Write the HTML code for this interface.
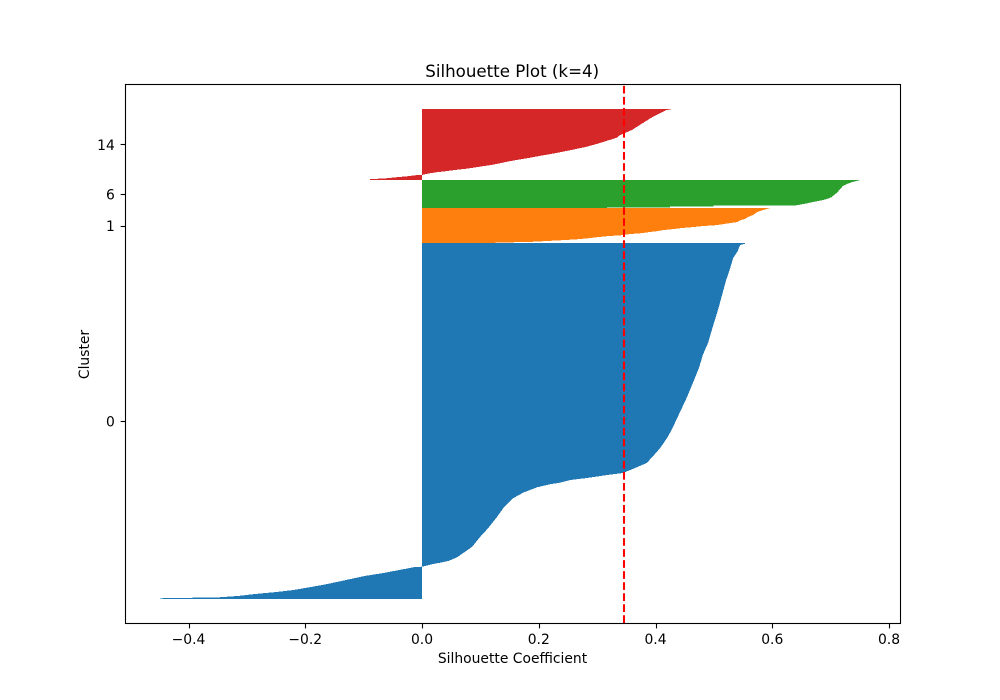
<!DOCTYPE html>
<html>
<head>
<meta charset="utf-8">
<title>Silhouette Plot (k=4)</title>
<style>
html,body{margin:0;padding:0;background:#fff;}
svg{display:block;}
text{font-family:"DejaVu Sans","Liberation Sans",sans-serif;fill:#000;}
</style>
</head>
<body>
<svg id="chart" width="1000" height="700" viewBox="0 0 1000 700" xmlns="http://www.w3.org/2000/svg">
  <rect x="0" y="0" width="1000" height="700" fill="#ffffff"/>
  <g id="bars"></g>
  <g id="mean"></g>
  <rect x="125.5" y="84.5" width="775" height="539" fill="none" stroke="#000" stroke-width="1.1"/>
  <g id="xticks"></g>
  <g id="yticks"></g>
  <text x="512.2" y="76.8" text-anchor="middle" font-size="16.67">Silhouette Plot (k=4)</text>
  <text x="512.5" y="663" text-anchor="middle" font-size="13.89">Silhouette Coefficient</text>
  <text x="0" y="0" text-anchor="middle" font-size="13.89" transform="translate(89,354.5) rotate(-90)">Cluster</text>
</svg>
<script>
const clusterLabels = ["0", "1", "6", "14"];
const clusterSizes = [507, 50, 40, 101];
const clusterColors = ["#1f77b4", "#ff7f0e", "#2ca02c", "#d62728"];
const xTickValues = [-0.4, -0.2, 0, 0.2, 0.4, 0.6, 0.8];
const meanScore = 0.346;

const cluster0Ranks = [0,1,2.4,4.3,7.1,10,12.8,15.7,19.9,24.2,28.5,32.8,37,41.3,45.6,46,49.9,51.7,54.1,59.4,67.4,74.5,87.9,100.7,116.4,129.2,143.4,151.4,159.1,163.4,165.7,169.5,172.4,176.6,179.5,185.2,193.7,203.7,215.1,230.8,245,266.4,287.7,307.7,330.5,347.6,364.7,387.5,411.7,433,454.4,471.5,485.8,494.3,504.3,506,507];
const cluster0Values = [-0.449,-0.449,-0.348,-0.315,-0.286,-0.249,-0.220,-0.200,-0.171,-0.146,-0.122,-0.098,-0.066,-0.039,-0.012,0,0.019,0.031,0.045,0.060,0.074,0.086,0.099,0.113,0.128,0.139,0.156,0.173,0.197,0.219,0.236,0.254,0.283,0.317,0.344,0.361,0.385,0.396,0.408,0.421,0.430,0.442,0.454,0.464,0.475,0.481,0.490,0.498,0.507,0.514,0.521,0.528,0.533,0.540,0.545,0.553,0.553];

const cluster1Ranks = [0,0.4,1.9,3.8,5.3,6.7,8.5,10,11,12.8,14.2,15.7,17.1,18.5,19.9,21.4,22.8,24.2,25.6,27,28.5,29.9,32.8,34.2,37,39.9,44.2,47,49.4,50];
const cluster1Values = [0.100,0.123,0.190,0.233,0.264,0.283,0.301,0.319,0.339,0.356,0.377,0.389,0.404,0.413,0.430,0.445,0.464,0.481,0.505,0.516,0.528,0.540,0.546,0.553,0.558,0.567,0.574,0.584,0.594,0.597];

const cluster6Ranks = [0,1,1,2.4,2.4,3.8,3.8,5.7,9,11,12.8,15.2,18.5,21.8,26.6,31.3,34.2,37,38.5,40];
const cluster6Values = [0.317,0.317,0.425,0.425,0.499,0.499,0.641,0.654,0.673,0.685,0.694,0.701,0.706,0.711,0.716,0.721,0.728,0.737,0.745,0.752];

const cluster14Ranks = [0,1,2.4,3.8,5.3,6.7,7.1,9.5,11,12.4,14.2,15.7,17.1,19.5,21.4,23.8,26.1,28.5,31.3,34.2,36.6,40.3,43.7,46.6,50.9,54.6,60.3,63.7,71.2,78.3,84.5,90.2,96.4,99.3,100.7,101];
const cluster14Values = [-0.089,-0.089,-0.060,-0.043,-0.024,-0.010,0,0.014,0.026,0.041,0.057,0.074,0.086,0.104,0.120,0.134,0.147,0.163,0.183,0.202,0.219,0.242,0.262,0.279,0.298,0.313,0.334,0.339,0.360,0.373,0.385,0.396,0.411,0.418,0.427,0.427];

const clusterRanks = [cluster0Ranks, cluster1Ranks, cluster6Ranks, cluster14Ranks];
const clusterValues = [cluster0Values, cluster1Values, cluster6Values, cluster14Values];

const NS = "http://www.w3.org/2000/svg";
const plotLeft = 125, plotRight = 900, plotTop = 84, plotBottom = 623;
const xMin = -0.5088, xMax = 0.8188;
const totalSamples = clusterSizes.reduce(function (a, b) { return a + b; }, 0);
const yMin = -totalSamples * 0.05, yMax = totalSamples * 1.05;

function xScale(v) { return plotLeft + (v - xMin) / (xMax - xMin) * (plotRight - plotLeft); }
function yScale(n) { return 0.5 + plotBottom - (n - yMin) / (yMax - yMin) * (plotBottom - plotTop); }

const barsGroup = document.getElementById("bars");
let offset = 0;
const yTicksGroup = document.getElementById("yticks");
clusterSizes.forEach(function (size, i) {
  const ranks = clusterRanks[i];
  const values = clusterValues[i];
  const pts = [];
  pts.push(xScale(0).toFixed(2) + "," + yScale(offset).toFixed(2));
  ranks.forEach(function (r, j) {
    pts.push(xScale(values[j]).toFixed(2) + "," + yScale(offset + r * size / ranks[ranks.length - 1]).toFixed(2));
  });
  pts.push(xScale(0).toFixed(2) + "," + yScale(offset + size).toFixed(2));
  const poly = document.createElementNS(NS, "polygon");
  poly.setAttribute("points", pts.join(" "));
  poly.setAttribute("fill", clusterColors[i]);
  poly.setAttribute("shape-rendering", "crispEdges");
  
  
  barsGroup.appendChild(poly);

  const yExact = yScale(offset + size / 2);
  const yMid = Math.round(yExact);
  const tick = document.createElementNS(NS, "line");
  tick.setAttribute("x1", plotLeft + 0.5);
  tick.setAttribute("x2", plotLeft - 4.4);
  tick.setAttribute("y1", yMid + 0.5);
  tick.setAttribute("y2", yMid + 0.5);
  tick.setAttribute("stroke", "#000");
  tick.setAttribute("stroke-width", "1.1");
  
  
  yTicksGroup.appendChild(tick);

  const label = document.createElementNS(NS, "text");
  label.setAttribute("x", plotLeft - 10.2);
  label.setAttribute("y", yExact + 5.45);
  label.setAttribute("text-anchor", "end");
  label.setAttribute("font-size", "13.89");
  label.textContent = clusterLabels[i];
  
  
  yTicksGroup.appendChild(label);

  offset += size;
});

const xTicksGroup = document.getElementById("xticks");
xTickValues.forEach(function (v) {
  const x = xScale(v);
  const tick = document.createElementNS(NS, "line");
  tick.setAttribute("x1", Math.round(x) + 0.5);
  tick.setAttribute("x2", Math.round(x) + 0.5);
  tick.setAttribute("y1", plotBottom + 0.5);
  tick.setAttribute("y2", plotBottom + 5.4);
  tick.setAttribute("stroke", "#000");
  tick.setAttribute("stroke-width", "1.1");
  
  
  xTicksGroup.appendChild(tick);

  const label = document.createElementNS(NS, "text");
  label.setAttribute("x", x);
  label.setAttribute("y", 644);
  label.setAttribute("text-anchor", "middle");
  label.setAttribute("font-size", "13.89");
  label.textContent = (v < 0 ? "\u2212" : "") + Math.abs(v).toFixed(1);
  
  
  xTicksGroup.appendChild(label);
});

const meanLine = document.createElementNS(NS, "line");
meanLine.setAttribute("x1", xScale(meanScore));
meanLine.setAttribute("x2", xScale(meanScore));
meanLine.setAttribute("y1", plotBottom);
meanLine.setAttribute("y2", plotTop);
meanLine.setAttribute("stroke", "#ff0000");
meanLine.setAttribute("stroke-width", "2.08");
meanLine.setAttribute("stroke-dasharray", "7.7 3.33");


document.getElementById("mean").appendChild(meanLine);
</script>
</body>
</html>
